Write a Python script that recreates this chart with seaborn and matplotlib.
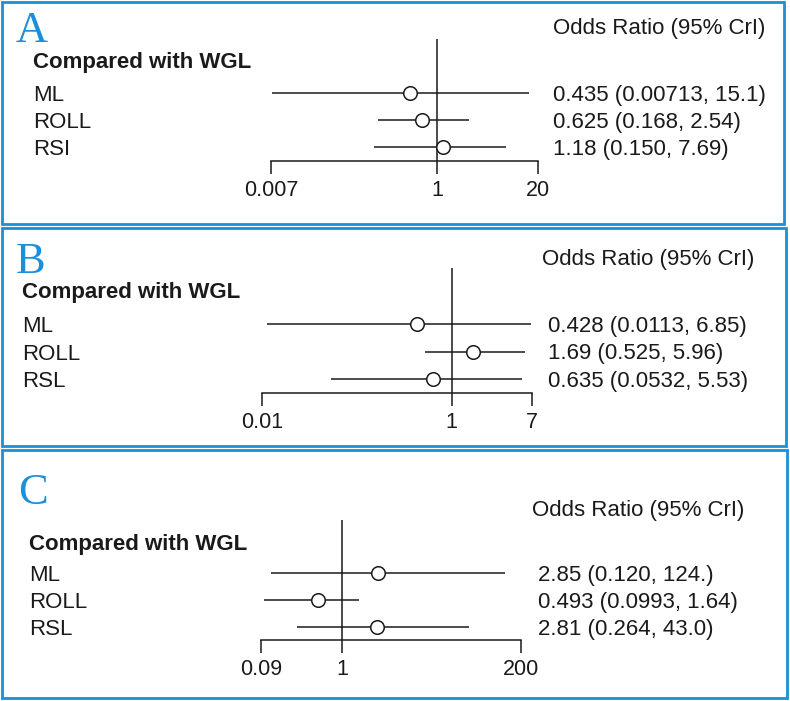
import matplotlib
matplotlib.use("Agg")
import matplotlib.pyplot as plt
import seaborn as sns
import pandas as pd
from matplotlib.patches import Rectangle

sns.set_theme(style="white")
plt.rcParams['font.family'] = ['Liberation Sans', 'DejaVu Sans']

# ---------------- data ----------------
panel_letters = ["A", "B", "C"]
header = "Compared with WGL"
or_title = "Odds Ratio (95% CrI)"

labels_a = ["ML", "ROLL", "RSI"]
or_a = [0.435, 0.625, 1.18]
lo_a = [0.00713, 0.168, 0.150]
hi_a = [15.1, 2.54, 7.69]
txt_a = ["0.435 (0.00713, 15.1)", "0.625 (0.168, 2.54)", "1.18 (0.150, 7.69)"]
ticks_a = [0.007, 1, 20]
ticklabels_a = ["0.007", "1", "20"]

labels_b = ["ML", "ROLL", "RSL"]
or_b = [0.428, 1.69, 0.635]
lo_b = [0.0113, 0.525, 0.0532]
hi_b = [6.85, 5.96, 5.53]
txt_b = ["0.428 (0.0113, 6.85)", "1.69 (0.525, 5.96)", "0.635 (0.0532, 5.53)"]
ticks_b = [0.01, 1, 7]
ticklabels_b = ["0.01", "1", "7"]

labels_c = ["ML", "ROLL", "RSL"]
or_c = [2.85, 0.493, 2.81]
lo_c = [0.120, 0.0993, 0.264]
hi_c = [124.0, 1.64, 43.0]
txt_c = ["2.85 (0.120, 124.)", "0.493 (0.0993, 1.64)", "2.81 (0.264, 43.0)"]
ticks_c = [0.09, 1, 200]
ticklabels_c = ["0.09", "1", "200"]

# ---------------- layout (pixels) ----------------
W, H = 790, 701
fig = plt.figure(figsize=(W / 100, H / 100), dpi=100)
BLUE = "#1b8fd9"
INK = "#1a1a1a"
CAP = 8  # half cap height in px, to put text baseline below a row centre

def fx(x):
    return x / W

def fy(y):
    return 1 - y / H

def ftext(x, y, s, **kw):
    fig.text(fx(x), fy(y), s, transform=fig.transFigure, **kw)

panels = [
    dict(letter="A", labels=labels_a, est=or_a, lo=lo_a, hi=hi_a, txt=txt_a,
         ticks=ticks_a, tl=ticklabels_a,
         box=(2, 2, 784, 224), ax_x=(271, 538), ax_top=39, ax_bot=161,
         rows=(93, 27), hdr=(33, 60), lab_x=33, val_x=553, ortitle=(553, 26),
         let=(16, 42)),
    dict(letter="B", labels=labels_b, est=or_b, lo=lo_b, hi=hi_b, txt=txt_b,
         ticks=ticks_b, tl=ticklabels_b,
         box=(2, 228, 786, 446), ax_x=(262, 532), ax_top=268, ax_bot=393,
         rows=(324, 27.5), hdr=(22, 290), lab_x=22, val_x=548, ortitle=(542, 257),
         let=(16, 273)),
    dict(letter="C", labels=labels_c, est=or_c, lo=lo_c, hi=hi_c, txt=txt_c,
         ticks=ticks_c, tl=ticklabels_c,
         box=(2, 450, 787, 698), ax_x=(261, 521), ax_top=520, ax_bot=640,
         rows=(573, 27), hdr=(29, 542), lab_x=29, val_x=538, ortitle=(532, 508),
         let=(18, 504)),
]

for p in panels:
    x0, y0, x1, y1 = p["box"]
    fig.patches.append(Rectangle((fx(x0), fy(y1)), (x1 - x0) / W, (y1 - y0) / H,
                                 transform=fig.transFigure, fill=False,
                                 edgecolor=BLUE, linewidth=2.0))
    ax_l, ax_r = p["ax_x"]
    ax = fig.add_axes([fx(ax_l), fy(p["ax_bot"]), (ax_r - ax_l) / W,
                       (p["ax_bot"] - p["ax_top"]) / H])
    ax.set_facecolor("none")
    ax.set_xscale("log")
    ax.set_xlim(p["ticks"][0], p["ticks"][-1])
    r0, pitch = p["rows"]
    ytop = -(r0 - p["ax_top"]) / pitch
    ybot = (p["ax_bot"] - r0) / pitch
    ax.set_ylim(ybot, ytop)

    df = pd.DataFrame({"label": p["labels"], "est": p["est"], "lo": p["lo"],
                       "hi": p["hi"], "row": range(len(p["labels"]))})
    ax.hlines(df["row"], df["lo"], df["hi"], color=INK, linewidth=1.1, zorder=2)
    ax.axvline(1, color=INK, linewidth=1.1, zorder=1)
    sns.scatterplot(data=df, x="est", y="row", ax=ax, s=95, facecolor="white",
                    edgecolor=INK, linewidth=1.1, zorder=3, legend=False)

    for s in ["top", "right", "left"]:
        ax.spines[s].set_visible(False)
    ax.spines["bottom"].set_color(INK)
    ax.spines["bottom"].set_linewidth(1.1)
    ax.set_xticks(p["ticks"])
    ax.set_xticklabels(p["tl"])
    ax.xaxis.set_minor_locator(matplotlib.ticker.NullLocator())
    ax.tick_params(axis="x", which="major", direction="out", length=9.5,
                   width=1.1, color=INK, pad=4, labelsize=15.5, labelcolor=INK,
                   bottom=True)
    ax.set_yticks([])
    ax.set_xlabel("")
    ax.set_ylabel("")

    # texts
    ftext(p["let"][0], p["let"][1], p["letter"], family=["Liberation Serif"],
          fontsize=32, color=BLUE, va="baseline", ha="left")
    ftext(p["hdr"][0], p["hdr"][1] + CAP, header, fontsize=16, fontweight="bold",
          color=INK, va="baseline", ha="left")
    ftext(p["ortitle"][0], p["ortitle"][1] + CAP, or_title, fontsize=16, color=INK,
          va="baseline", ha="left")
    for i, (lab, t) in enumerate(zip(p["labels"], p["txt"])):
        yy = r0 + pitch * i + CAP
        ftext(p["lab_x"], yy, lab, fontsize=16, color=INK, va="baseline", ha="left")
        ftext(p["val_x"], yy, t, fontsize=16, color=INK, va="baseline", ha="left")

fig.savefig("out.png", dpi=100, facecolor="white")
